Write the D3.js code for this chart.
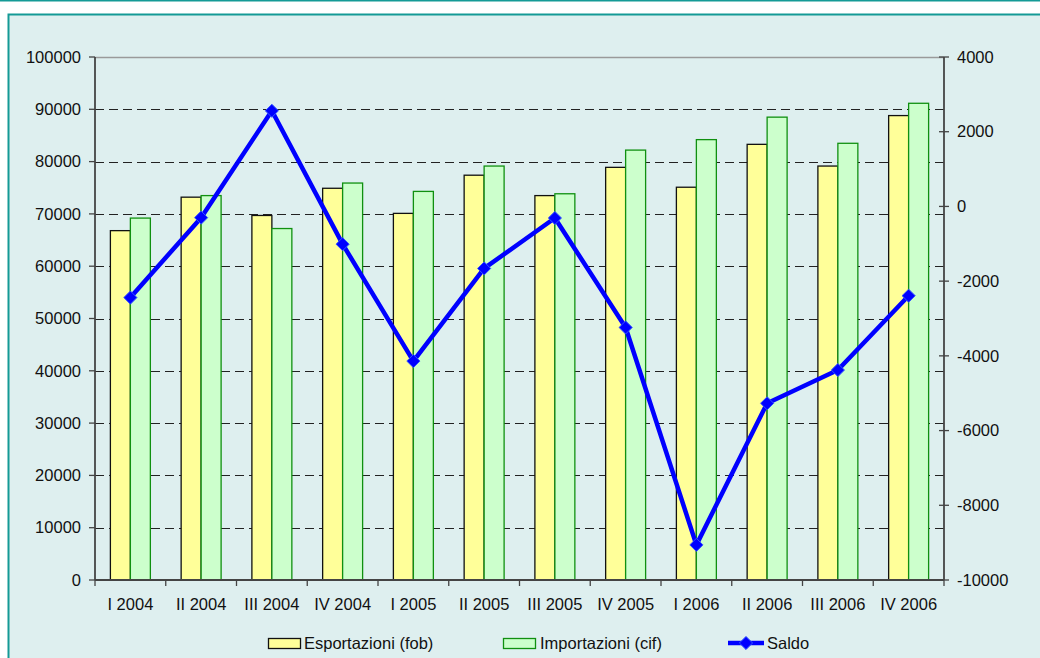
<!DOCTYPE html>
<html>
<head>
<meta charset="utf-8">
<script src="https://cdn.jsdelivr.net/npm/d3@7"></script>
<style>
  html, body { margin: 0; padding: 0; background: #fff; }
  svg { display: block; }
</style>
</head>
<body>
<div id="chart"></div>
<script>
// data
const categories = ["I 2004", "II 2004", "III 2004", "IV 2004", "I 2005", "II 2005",
                    "III 2005", "IV 2005", "I 2006", "II 2006", "III 2006", "IV 2006"];
const esportazioni = [66800, 73200, 69700, 74900, 70100, 77400, 73500, 78900, 75100, 83300, 79150, 88800];
const importazioni = [69200, 73500, 67200, 75900, 74300, 79150, 73850, 82200, 84200, 88500, 83500, 91150];
const saldo = [-2440, -300, 2560, -1010, -4140, -1660, -310, -3240, -9060, -5270, -4380, -2390];
const leftTicks = [0, 10000, 20000, 30000, 40000, 50000, 60000, 70000, 80000, 90000, 100000];
const rightTicks = [-10000, -8000, -6000, -4000, -2000, 0, 2000, 4000];

const W = 1040, H = 658;
const plot = { left: 95, right: 944, top: 57, bottom: 580 };
const font = "'Liberation Sans', Arial, sans-serif";
const fontSize = "16.5px";

const svg = d3.select("#chart").append("svg")
    .attr("width", W)
    .attr("height", H);

// frame
svg.append("line").attr("x1", 0).attr("x2", W).attr("y1", 0.5).attr("y2", 0.5)
    .attr("stroke", "#149a96").attr("stroke-width", 2);
svg.append("rect")
    .attr("x", 8.5).attr("y", 14.5)
    .attr("width", W + 20).attr("height", H + 20)
    .attr("fill", "#deefef")
    .attr("stroke", "#149a96")
    .attr("stroke-width", 2);

const x0 = d3.scaleBand().domain(categories).range([plot.left, plot.right]);
const bw = x0.bandwidth();
const groupW = bw / 1.77;
const x1 = d3.scaleBand().domain(["exp", "imp"])
    .range([(bw - groupW) / 2, (bw + groupW) / 2]);
const yL = d3.scaleLinear().domain([0, 100000]).range([plot.bottom, plot.top]);
const yR = d3.scaleLinear().domain([-10000, 4000]).range([plot.bottom, plot.top]);

// gridlines
svg.append("g").selectAll("line")
    .data(leftTicks.filter(t => t > 0 && t < 100000)).enter().append("line")
    .attr("x1", plot.left).attr("x2", plot.right)
    .attr("y1", d => Math.round(yL(d)) + 0.5).attr("y2", d => Math.round(yL(d)) + 0.5)
    .attr("stroke", "#222")
    .attr("stroke-width", 1)
    .attr("stroke-dasharray", "9,5");
svg.append("line")
    .attr("x1", plot.left).attr("x2", plot.right)
    .attr("y1", Math.round(yL(100000)) + 0.5).attr("y2", Math.round(yL(100000)) + 0.5)
    .attr("stroke", "#9a9a9a").attr("stroke-width", 1.5);

// bars
const groups = svg.append("g").selectAll("g")
    .data(categories).enter().append("g")
    .attr("transform", d => `translate(${x0(d)},0)`);

groups.append("rect")
    .attr("x", x1("exp"))
    .attr("y", (d, i) => yL(esportazioni[i]))
    .attr("width", x1.bandwidth())
    .attr("height", (d, i) => plot.bottom - yL(esportazioni[i]))
    .attr("fill", "#ffff99")
    .attr("stroke", "#111")
    .attr("stroke-width", 1.3);

groups.append("rect")
    .attr("x", x1("imp"))
    .attr("y", (d, i) => yL(importazioni[i]))
    .attr("width", x1.bandwidth())
    .attr("height", (d, i) => plot.bottom - yL(importazioni[i]))
    .attr("fill", "#ccffcc")
    .attr("stroke", "#109010")
    .attr("stroke-width", 1.3);

// axes
const axisColor = "#444";
svg.append("line").attr("x1", plot.left).attr("x2", plot.left)
    .attr("y1", plot.top).attr("y2", plot.bottom)
    .attr("stroke", axisColor).attr("stroke-width", 1.8);
svg.append("line").attr("x1", plot.right).attr("x2", plot.right)
    .attr("y1", plot.top).attr("y2", plot.bottom)
    .attr("stroke", axisColor).attr("stroke-width", 1.8);
svg.append("line").attr("x1", plot.left).attr("x2", plot.right)
    .attr("y1", plot.bottom).attr("y2", plot.bottom)
    .attr("stroke", axisColor).attr("stroke-width", 1.8);

// left ticks + labels
const lt = svg.append("g").selectAll("g").data(leftTicks).enter().append("g")
    .attr("transform", d => `translate(0,${yL(d)})`);
lt.append("line").attr("x1", plot.left - 6).attr("x2", plot.left)
    .attr("stroke", axisColor).attr("stroke-width", 1.3);
lt.append("text")
    .attr("x", plot.left - 14).attr("dy", "0.35em")
    .attr("text-anchor", "end")
    .style("font-family", font).style("font-size", fontSize).style("fill", "#111")
    .text(d => d);

// right ticks + labels
const rt = svg.append("g").selectAll("g").data(rightTicks).enter().append("g")
    .attr("transform", d => `translate(0,${yR(d)})`);
rt.append("line").attr("x1", plot.right - 5).attr("x2", plot.right + 5)
    .attr("stroke", axisColor).attr("stroke-width", 1.3);
rt.append("text")
    .attr("x", plot.right + 13).attr("dy", "0.35em")
    .style("font-family", font).style("font-size", fontSize).style("fill", "#111")
    .text(d => d);

// bottom ticks between categories
const bTicks = categories.map(c => x0(c)).concat([plot.right]);
svg.append("g").selectAll("line").data(bTicks).enter().append("line")
    .attr("x1", d => d).attr("x2", d => d)
    .attr("y1", plot.bottom).attr("y2", plot.bottom + 6)
    .attr("stroke", axisColor).attr("stroke-width", 1.3);
svg.append("g").selectAll("text").data(categories).enter().append("text")
    .attr("x", d => x0(d) + bw / 2)
    .attr("y", 610)
    .attr("text-anchor", "middle")
    .style("font-family", font).style("font-size", fontSize).style("fill", "#111")
    .text(d => d);

// saldo line
const cx = (d, i) => x0(categories[i]) + bw / 2;
const line = d3.line().x(cx).y(d => yR(d));
svg.append("path")
    .datum(saldo)
    .attr("d", line)
    .attr("fill", "none")
    .attr("stroke", "#0000ff")
    .attr("stroke-width", 4.5)
    .attr("stroke-linejoin", "round");
const diamond = d3.symbol().type(d3.symbolDiamond2).size(110);
svg.append("g").selectAll("path").data(saldo).enter().append("path")
    .attr("d", diamond)
    .attr("transform", (d, i) => `translate(${cx(d, i)},${yR(d)})`)
    .attr("fill", "#0000ff")
    .attr("stroke", "#3355ff")
    .attr("stroke-width", 1);

// legend
const legend = svg.append("g");
legend.append("rect").attr("x", 268.5).attr("y", 638.5).attr("width", 32).attr("height", 10)
    .attr("fill", "#ffff99").attr("stroke", "#111").attr("stroke-width", 1.3);
legend.append("text").attr("x", 304).attr("y", 649)
    .style("font-family", font).style("font-size", fontSize).style("fill", "#111")
    .text("Esportazioni (fob)");
legend.append("rect").attr("x", 503.5).attr("y", 638.5).attr("width", 32).attr("height", 10)
    .attr("fill", "#ccffcc").attr("stroke", "#109010").attr("stroke-width", 1.3);
legend.append("text").attr("x", 540).attr("y", 649)
    .style("font-family", font).style("font-size", fontSize).style("fill", "#111")
    .text("Importazioni (cif)");
legend.append("line").attr("x1", 728).attr("x2", 764).attr("y1", 643).attr("y2", 643)
    .attr("stroke", "#0000ff").attr("stroke-width", 4.5);
legend.append("path").attr("d", diamond)
    .attr("transform", "translate(746,643)")
    .attr("fill", "#0000ff").attr("stroke", "#3355ff").attr("stroke-width", 1);
legend.append("text").attr("x", 767).attr("y", 649)
    .style("font-family", font).style("font-size", fontSize).style("fill", "#111")
    .text("Saldo");
</script>
</body>
</html>
